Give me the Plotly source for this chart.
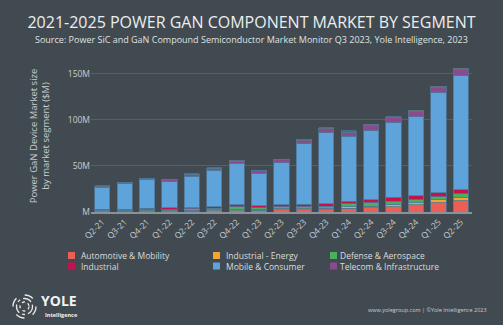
import plotly.graph_objects as go

quarters = ["Q2-21", "Q3-21", "Q4-21", "Q1-22", "Q2-22", "Q3-22", "Q4-22", "Q1-23", "Q2-23",
            "Q3-23", "Q4-23", "Q1-24", "Q2-24", "Q3-24", "Q4-24", "Q1-25", "Q2-25"]

automotive = [0.4, 0.4, 0.4, 0.4, 0.7, 1.1, 1.5, 1.8, 2.2, 2.2, 2.5, 4.0, 4.7, 5.8, 8.0, 10.2, 12.0]
industrial_energy = [0.7, 0.4, 0.7, 0.7, 1.1, 1.1, 1.5, 1.1, 1.1, 1.5, 1.5, 1.5, 1.8, 2.5, 2.2, 2.9, 3.6]
defense = [0.7, 1.1, 1.5, 1.5, 1.5, 1.8, 2.5, 1.8, 2.2, 2.2, 2.5, 3.3, 3.3, 3.3, 2.9, 3.3, 4.4]
industrial = [1.1, 1.1, 1.5, 1.8, 1.5, 1.8, 2.2, 2.2, 2.2, 2.5, 2.5, 2.9, 3.6, 4.4, 4.7, 4.4, 4.0]
mobile = [24.0, 27.6, 30.9, 28.7, 33.8, 39.6, 45.0, 35.3, 45.8, 65.5, 77.0, 70.5, 75.0, 81.0, 85.5, 108.4, 124.0]
telecom = [0.7, 1.1, 1.1, 1.8, 2.2, 2.2, 2.5, 2.5, 3.3, 3.6, 4.4, 4.4, 5.1, 5.1, 5.8, 5.8, 6.5]
other = [0.7, 0.7, 0.7, 0.7, 0.7, 0.7, 1.1, 0.7, 0.7, 1.1, 1.1, 1.5, 1.5, 1.5, 1.1, 1.5, 1.5]

series = [
    ("Automotive & Mobility", automotive, "#ec5f57", True),
    ("Industrial - Energy", industrial_energy, "#f5a52c", True),
    ("Defense & Aerospace", defense, "#4bb05b", True),
    ("Industrial", industrial, "#c4124c", True),
    ("Mobile & Consumer", mobile, "#5ea3d9", True),
    ("Telecom & Infrastructure", telecom, "#8b4a8d", True),
    ("Other", other, "#8d5b1f", False),
]

BG = "#414a50"
FONT = "Open Sans"
TXT = "#d9dcde"

W, H = 503, 325
L, R, T, B = 91, 31, 60, 113
PW, PH = W - L - R, H - T - B


def xp(x):
    return (x - L) / PW


def yp(y):
    return (H - B - y) / PH


fig = go.Figure()
for name, vals, color, show in series:
    fig.add_trace(go.Bar(
        x=quarters, y=vals, name=name, showlegend=False,
        marker=dict(color=color, line=dict(color="#4f7799", width=0.8)),
        width=0.68,
    ))

fig.update_layout(
    barmode="stack",
    width=W, height=H,
    paper_bgcolor=BG, plot_bgcolor=BG,
    margin=dict(l=L, r=R, t=T, b=B),
    font=dict(family=FONT, color=TXT, size=9),
    title=dict(
        text="2021-2025 POWER GAN COMPONENT MARKET BY SEGMENT",
        x=0.5, xanchor="center", xref="container", y=1 - 22 / H, yanchor="middle",
        yref="container",
        font=dict(family=FONT, size=16, color="#eceeef"),
    ),
    showlegend=False,
    xaxis=dict(
        tickangle=-45, tickfont=dict(size=8.5, color="#c9cdd0"),
        showgrid=False, showline=True, linecolor="#8b9297", linewidth=1.5,
        ticks="", range=[-0.5, 16.5], automargin=False,
    ),
    yaxis=dict(
        range=[0, 165], tickvals=[0, 50, 100, 150],
        ticktext=["M", "50M", "100M", "150M"],
        tickfont=dict(size=8.5, color="#c9cdd0"),
        gridcolor="#566066", gridwidth=1.2, zeroline=False, automargin=False,
        title=dict(text="Power GaN Device Market size<br>by market segment ($M)",
                   font=dict(size=9.5, color="#c9cdd0"), standoff=16),
    ),
)

fig.add_annotation(
    text="Source: Power SiC and GaN Compound Semiconductor Market Monitor Q3 2023, Yole Intelligence, 2023",
    xref="paper", yref="paper", x=xp(251.5), y=yp(39),
    xanchor="center", yanchor="middle", showarrow=False,
    font=dict(family=FONT, size=9, color="#dfe2e4"),
)

# legend (built from the series list)
col_marker_x = [68, 213, 330]
col_text_x = [79, 224, 338]
row_y = [255.5, 266]
shown = [s for s in series if s[3]]
for i, (name, vals, color, show) in enumerate(shown):
    c, r = i % 3, i // 3
    mx, my = col_marker_x[c], row_y[r]
    fig.add_shape(type="rect", xref="paper", yref="paper",
                  x0=xp(mx), x1=xp(mx + 7), y0=yp(my + 3.5), y1=yp(my - 3.5),
                  fillcolor=color, line=dict(width=0))
    fig.add_annotation(text=name, xref="paper", yref="paper",
                       x=xp(col_text_x[c]), y=yp(my), xanchor="left", yanchor="middle",
                       showarrow=False, font=dict(family=FONT, size=8.5, color=TXT))

# footer
fig.add_annotation(
    text="www.yolegroup.com | ©Yole Intelligence 2023",
    xref="paper", yref="paper", x=xp(489), y=yp(310),
    xanchor="right", yanchor="middle", showarrow=False,
    font=dict(family=FONT, size=5.5, color="#c9cdd0"),
)

# logo
fig.add_annotation(
    text="<b>YOLE</b>", xref="paper", yref="paper",
    x=xp(39), y=yp(300.5), xanchor="left", yanchor="middle",
    showarrow=False, font=dict(family=FONT, size=14, color="#f2f2f2"),
)
fig.add_annotation(
    text="<b>Intelligence</b>", xref="paper", yref="paper",
    x=xp(43), y=yp(314.5), xanchor="left", yanchor="middle",
    showarrow=False, font=dict(family=FONT, size=5.5, color="#f2f2f2"),
)
cx, cy = 24.5, 306.5
for rad, dash, wdt in [(11.5, "dash", 1.4), (8, "dashdot", 1.3), (4.5, "dot", 1.3)]:
    fig.add_shape(
        type="circle", xref="paper", yref="paper",
        x0=xp(cx - rad), x1=xp(cx + rad),
        y0=yp(cy + rad), y1=yp(cy - rad),
        line=dict(color="#e8e8e8", width=wdt, dash=dash),
    )

fig.write_html("out.html")
